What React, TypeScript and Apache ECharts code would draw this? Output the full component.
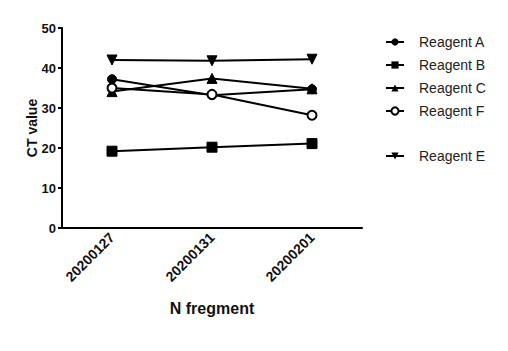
import React, { useEffect, useRef } from "react";
import * as echarts from "echarts";

const categories = ["20200127", "20200131", "20200201"];
const reagentA = [37.2, 33.2, 34.7];
const reagentB = [19.2, 20.2, 21.1];
const reagentC = [34.1, 37.4, 34.8];
const reagentF = [35.0, 33.4, 28.2];
const reagentE = [42.0, 41.8, 42.2];
const yTicks = { min: 0, max: 50, interval: 10 };

const FONT = "'Liberation Sans', Arial, sans-serif";

export default function App() {
  const ref = useRef<HTMLDivElement>(null);
  useEffect(() => {
    document.body.style.margin = "0";
    if (!ref.current) return;
    const chart = echarts.init(ref.current, undefined, { renderer: "svg" });
    const lineStyle = { color: "#000", width: 2 };
    const mk = (name: string, data: number[], symbol: string, size: number, extra: any = {}) => ({
      name,
      type: "line",
      data,
      symbol,
      symbolSize: size,
      lineStyle,
      itemStyle: { color: "#000", borderColor: "#000" },
      ...extra,
    });
    const legendText = { fontSize: 14, color: "#222", fontFamily: FONT, padding: [0, 0, 0, 10] };
    chart.setOption({
      animation: false,
      backgroundColor: "#fff",
      textStyle: { fontFamily: FONT },
      grid: { left: 62, top: 28, right: 146, bottom: 123, containLabel: false },
      legend: [
        {
          data: ["Reagent A", "Reagent B", "Reagent C", "Reagent F"],
          orient: "vertical",
          left: 385,
          top: 35,
          padding: 0,
          itemWidth: 18,
          itemHeight: 9,
          itemGap: 9,
          textStyle: legendText,
        },
        {
          data: ["Reagent E"],
          orient: "vertical",
          left: 385,
          top: 149,
          padding: 0,
          itemWidth: 18,
          itemHeight: 9,
          textStyle: legendText,
        },
      ],
      xAxis: {
        type: "category",
        data: categories,
        boundaryGap: true,
        name: "N fregment",
        nameLocation: "middle",
        nameGap: 72,
        nameMoveOverlap: false,
        nameTextStyle: { fontSize: 16, fontWeight: "bold", color: "#111", fontFamily: FONT },
        axisLine: { lineStyle: { color: "#000", width: 2 } },
        axisTick: { alignWithLabel: true, length: 4, lineStyle: { color: "#000", width: 2 } },
        axisLabel: { rotate: 45, fontSize: 14, fontWeight: "bold", color: "#111", margin: 7, fontFamily: FONT },
      },
      yAxis: {
        type: "value",
        min: yTicks.min,
        max: yTicks.max,
        interval: yTicks.interval,
        name: "CT value",
        nameLocation: "middle",
        nameGap: 23,
        nameMoveOverlap: false,
        nameTextStyle: { fontSize: 14, fontWeight: "bold", color: "#111", fontFamily: FONT },
        splitLine: { show: false },
        axisLine: { show: true, lineStyle: { color: "#000", width: 2 } },
        axisTick: { show: true, length: 4, lineStyle: { color: "#000", width: 2 } },
        axisLabel: { fontSize: 13, fontWeight: "bold", color: "#111", margin: 6, fontFamily: FONT },
      },
      series: [
        mk("Reagent A", reagentA, "circle", 9),
        mk("Reagent B", reagentB, "rect", 10),
        mk("Reagent C", reagentC, "triangle", 10),
        mk("Reagent F", reagentF, "emptyCircle", 9, {
          itemStyle: { color: "#000", borderColor: "#000", borderWidth: 2 },
        }),
        mk("Reagent E", reagentE, "triangle", 10, { symbolRotate: 180 }),
      ],
    });
    return () => chart.dispose();
  }, []);
  return <div ref={ref} style={{ width: 508, height: 351 }} />;
}
